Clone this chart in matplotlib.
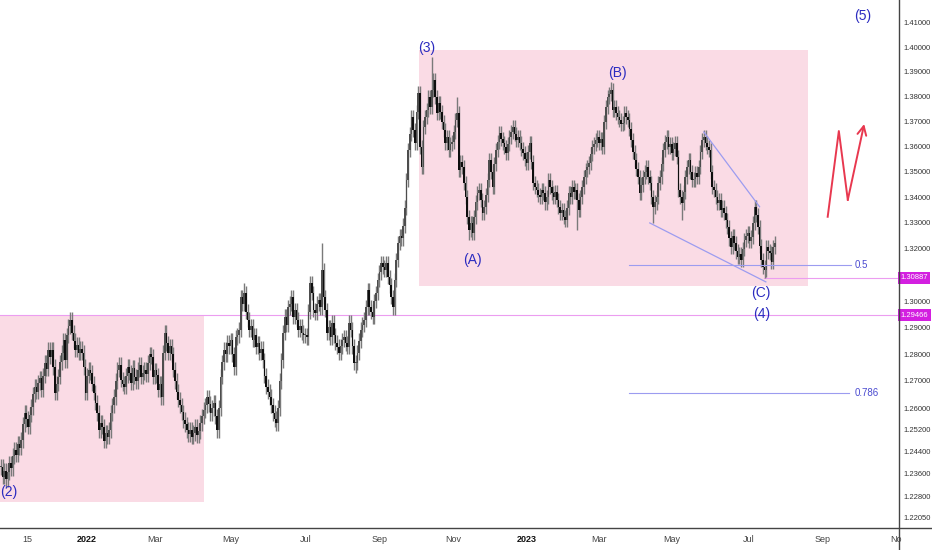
import numpy as np
import matplotlib.pyplot as plt
from matplotlib.lines import Line2D
from matplotlib.ticker import FixedLocator, FixedFormatter, NullLocator

# daily closes, one per trading day (Oct 2021 -> Jul 2023)
closes = [
    1.2385, 1.2350, 1.2372, 1.2340, 1.2367, 1.2398, 1.2380, 1.2425, 1.2447, 1.2430,
    1.2470, 1.2455, 1.2483, 1.2540, 1.2582, 1.2560, 1.2531, 1.2575, 1.2604, 1.2650,
    1.2678, 1.2660, 1.2693, 1.2710, 1.2667, 1.2720, 1.2767, 1.2745, 1.2816, 1.2790,
    1.2816, 1.2752, 1.2656, 1.2690, 1.2715, 1.2770, 1.2805, 1.2853, 1.2778, 1.2870,
    1.2905, 1.2929, 1.2880, 1.2850, 1.2816, 1.2835, 1.2805, 1.2820, 1.2805, 1.2752,
    1.2656, 1.2720, 1.2741, 1.2730, 1.2690, 1.2656, 1.2620, 1.2582, 1.2520, 1.2545,
    1.2531, 1.2480, 1.2509, 1.2495, 1.2520, 1.2582, 1.2610, 1.2641, 1.2700, 1.2741,
    1.2760, 1.2704, 1.2690, 1.2678, 1.2720, 1.2752, 1.2730, 1.2693, 1.2750, 1.2715,
    1.2700, 1.2741, 1.2760, 1.2715, 1.2730, 1.2741, 1.2725, 1.2767, 1.2800, 1.2790,
    1.2715, 1.2740, 1.2722, 1.2667, 1.2690, 1.2641, 1.2805, 1.2880, 1.2840, 1.2805,
    1.2830, 1.2800, 1.2741, 1.2700, 1.2660, 1.2630, 1.2610, 1.2585, 1.2556, 1.2540,
    1.2520, 1.2505, 1.2520, 1.2495, 1.2509, 1.2530, 1.2500, 1.2515, 1.2545, 1.2570,
    1.2593, 1.2610, 1.2640, 1.2615, 1.2582, 1.2600, 1.2619, 1.2570, 1.2520, 1.2600,
    1.2715, 1.2770, 1.2816, 1.2800, 1.2842, 1.2830, 1.2853, 1.2800, 1.2752, 1.2864,
    1.2870, 1.2891, 1.3015, 1.2990, 1.3031, 1.2960, 1.2929, 1.2891, 1.2905, 1.2853,
    1.2870, 1.2827, 1.2840, 1.2805, 1.2820, 1.2778, 1.2720, 1.2678, 1.2660, 1.2641,
    1.2610, 1.2582, 1.2560, 1.2545, 1.2600, 1.2700, 1.2778, 1.2880, 1.2940, 1.2910,
    1.2977, 1.2990, 1.3015, 1.2940, 1.2966, 1.2930, 1.2891, 1.2905, 1.2880, 1.2870,
    1.2870, 1.2864, 1.2960, 1.3069, 1.3031, 1.2966, 1.2955, 1.2990, 1.3004, 1.2977,
    1.3119, 1.3015, 1.2966, 1.2880, 1.2900, 1.2864, 1.2918, 1.2870, 1.2842, 1.2827,
    1.2805, 1.2830, 1.2853, 1.2864, 1.2840, 1.2827, 1.2918, 1.2891, 1.2830, 1.2767,
    1.2767, 1.2805, 1.2850, 1.2891, 1.2910, 1.2929, 1.2977, 1.3042, 1.2977, 1.2960,
    1.2940, 1.3000, 1.3031, 1.3080, 1.3110, 1.3145, 1.3130, 1.3120, 1.3145, 1.3092,
    1.3060, 1.3015, 1.2977, 1.3080, 1.3157, 1.3222, 1.3250, 1.3240, 1.3290, 1.3360,
    1.3468, 1.3587, 1.3650, 1.3718, 1.3666, 1.3614, 1.3740, 1.3815, 1.3600, 1.3519,
    1.3678, 1.3720, 1.3746, 1.3798, 1.3760, 1.3827, 1.3867, 1.3800, 1.3734, 1.3774,
    1.3740, 1.3700, 1.3666, 1.3614, 1.3640, 1.3587, 1.3610, 1.3620, 1.3660, 1.3706,
    1.3734, 1.3507, 1.3540, 1.3519, 1.3456, 1.3400, 1.3324, 1.3273, 1.3300, 1.3260,
    1.3324, 1.3380, 1.3417, 1.3430, 1.3390, 1.3340, 1.3363, 1.3410, 1.3468, 1.3547,
    1.3500, 1.3441, 1.3530, 1.3587, 1.3620, 1.3654, 1.3630, 1.3614, 1.3600, 1.3575,
    1.3610, 1.3638, 1.3660, 1.3678, 1.3650, 1.3626, 1.3640, 1.3614, 1.3590, 1.3575,
    1.3550, 1.3535, 1.3580, 1.3614, 1.3540, 1.3456, 1.3440, 1.3429, 1.3410, 1.3402,
    1.3430, 1.3417, 1.3380, 1.3402, 1.3468, 1.3440, 1.3417, 1.3400, 1.3420, 1.3390,
    1.3363, 1.3340, 1.3350, 1.3324, 1.3312, 1.3360, 1.3417, 1.3400, 1.3441, 1.3420,
    1.3429, 1.3390, 1.3351, 1.3400, 1.3441, 1.3480, 1.3507, 1.3520, 1.3535, 1.3570,
    1.3598, 1.3610, 1.3626, 1.3640, 1.3614, 1.3630, 1.3598, 1.3700, 1.3758, 1.3798,
    1.3810, 1.3827, 1.3746, 1.3760, 1.3734, 1.3720, 1.3706, 1.3690, 1.3694, 1.3734,
    1.3720, 1.3706, 1.3670, 1.3626, 1.3580, 1.3547, 1.3510, 1.3480, 1.3417, 1.3450,
    1.3480, 1.3500, 1.3519, 1.3480, 1.3456, 1.3400, 1.3363, 1.3380, 1.3402, 1.3456,
    1.3480, 1.3530, 1.3587, 1.3620, 1.3638, 1.3598, 1.3610, 1.3575, 1.3590, 1.3614,
    1.3560, 1.3429, 1.3400, 1.3378, 1.3420, 1.3480, 1.3520, 1.3547, 1.3500, 1.3468,
    1.3470, 1.3496, 1.3480, 1.3519, 1.3580, 1.3626, 1.3640, 1.3614, 1.3600, 1.3587,
    1.3500, 1.3441, 1.3429, 1.3400, 1.3378, 1.3390, 1.3351, 1.3360, 1.3339, 1.3310,
    1.3285, 1.3240, 1.3207, 1.3250, 1.3222, 1.3190, 1.3168, 1.3180, 1.3157, 1.3200,
    1.3234, 1.3250, 1.3262, 1.3230, 1.3246, 1.3300, 1.3363, 1.3330, 1.3285, 1.3210,
    1.3157, 1.3130, 1.3119, 1.3207, 1.3190, 1.3184, 1.3150, 1.3207, 1.3222,
]

# notable wick extremes
spike_highs = {41: 1.2959, 144: 1.3069, 190: 1.3222, 255: 1.3962, 270: 1.3798,
               361: 1.3859, 416: 1.3654, 446: 1.3378}
spike_lows = {3: 1.2320, 113: 1.2488, 128: 1.2490, 163: 1.2527, 210: 1.2730,
              232: 1.2960, 277: 1.3234, 341: 1.3273, 386: 1.3300, 403: 1.3312,
              438: 1.3130, 452: 1.3089}

tick_pos = [15.4, 51, 91, 136, 180.5, 224, 268, 311, 354, 397, 442.6, 486, 530]
tick_lbl = ['15', '2022', 'Mar', 'May', 'Jul', 'Sep', 'Nov', '2023', 'Mar', 'May', 'Jul', 'Sep', 'No']
price_ticks = [1.41, 1.40, 1.39, 1.38, 1.37, 1.36, 1.35, 1.34, 1.33, 1.32, 1.30,
               1.29, 1.28, 1.27, 1.26, 1.252, 1.244, 1.236, 1.228, 1.2205]

wave_labels = [('(2)', 4.5, 1.2294), ('(3)', 252, 1.3997), ('(A)', 279, 1.3157),
               ('(B)', 365, 1.3897), ('(C)', 449.5, 1.3031), ('(4)', 450.5, 1.2951),
               ('(5)', 510, 1.4130)]

last_price = 1.30887
level_4 = 1.29466

narrow = ['Liberation Sans Narrow', 'Liberation Sans', 'DejaVu Sans']

closes = np.array(closes)
n = len(closes)
idx = np.arange(n)
opens = np.r_[closes[0], closes[:-1]]
wick = 0.0028
highs = np.maximum(opens, closes) + wick
lows = np.minimum(opens, closes) - wick
for k, v in spike_highs.items():
    highs[k] = max(highs[k], v)
for k, v in spike_lows.items():
    lows[k] = min(lows[k], v)

fig = plt.figure(figsize=(9.32, 5.50), dpi=100)
ax = fig.add_axes([0, 22 / 550, 899 / 932, 528 / 550])
ax.set_yscale('log')
ax.set_xlim(-0.5, 531.5)
ax.set_ylim(1.21661, 1.41950)

pink = '#fadbe5'
ax.fill_between([-0.5, 120], 1.2259, 1.2947, color=pink, lw=0, zorder=0)
ax.fill_between([247.3, 477.5], 1.3057, 1.3990, color=pink, lw=0, zorder=0)

# candles
ax.vlines(idx, lows, highs, color='#7a7a7a', lw=1.0, zorder=2)
up = closes >= opens
body_lo = np.minimum(opens, closes)
body_h = np.maximum(np.abs(closes - opens), 0.0005)
ax.bar(idx[up], body_h[up], bottom=body_lo[up], width=0.95, color='#4d4d4d', zorder=3)
ax.bar(idx[~up], body_h[~up], bottom=body_lo[~up], width=0.95, color='#0e0e0e', zorder=3)

# horizontal levels
ax.axhline(level_4, color='#ec9df0', lw=0.8, zorder=1)
ax.plot([451.5, 531.5], [last_price, last_price], color='#ec9df0', lw=0.8, zorder=1)

# fib levels
fib_col = '#9c9cf0'
ax.plot([371.5, 503], [1.3136, 1.3136], color=fib_col, lw=0.8, zorder=4)
ax.text(505.5, 1.3136, '0.5', color='#4a4ad0', fontsize=7, va='center', family=narrow)
ax.plot([371.5, 502], [1.2654, 1.2654], color=fib_col, lw=0.8, zorder=4)
ax.text(505.5, 1.2654, '0.786', color='#4a4ad0', fontsize=7, va='center', family=narrow)

# wedge lines
ax.plot([384, 452.7], [1.3300, 1.3073], color=fib_col, lw=0.9, zorder=4)
ax.plot([416, 449], [1.3658, 1.3363], color=fib_col, lw=0.9, zorder=4)

# projected path
red = '#e8384f'
ax.plot([489.3, 495.9, 501.2], [1.3324, 1.3662, 1.3390], color=red, lw=1.4, zorder=5)
ax.annotate('', xy=(510.9, 1.3690), xytext=(501.2, 1.3390),
            arrowprops=dict(arrowstyle='->', color=red, lw=1.4, mutation_scale=16,
                            shrinkA=0, shrinkB=0), zorder=5)

for txt, bx, py in wave_labels:
    ax.text(bx, py, txt, color='#2b2bc0', fontsize=10, ha='center', va='center',
            family=narrow)

# axes styling
for s in ['top', 'left', 'right', 'bottom']:
    ax.spines[s].set_visible(False)
ax.yaxis.tick_right()
ax.yaxis.set_major_locator(FixedLocator(price_ticks))
ax.yaxis.set_major_formatter(FixedFormatter(['%.5f' % p for p in price_ticks]))
ax.yaxis.set_minor_locator(NullLocator())
ax.tick_params(axis='y', length=0, pad=3, labelsize=5.5)
for lbl in ax.get_yticklabels():
    lbl.set_family(narrow)
    lbl.set_color('#333333')
ax.set_xticks(tick_pos)
ax.set_xticklabels(tick_lbl)
ax.tick_params(axis='x', length=0, pad=5, labelsize=6.5, labelcolor='#444444')
for lbl in ax.get_xticklabels():
    lbl.set_family(narrow)
    if lbl.get_text() in ('2022', '2023'):
        lbl.set_fontweight('bold')
        lbl.set_color('#111111')

for price in [last_price, level_4]:
    ax.text(1.0018, price, '%.5f' % price, transform=ax.get_yaxis_transform(),
            color='white', fontsize=5.5, va='center', ha='left', family=narrow,
            bbox=dict(boxstyle='square,pad=0.3', fc='#d31fe0', ec='none'))

fig.add_artist(Line2D([0, 1], [22 / 550, 22 / 550], color='#444444', lw=1))
fig.add_artist(Line2D([899 / 932, 899 / 932], [0, 1], color='#444444', lw=1))

fig.savefig('out.png', dpi=100)
